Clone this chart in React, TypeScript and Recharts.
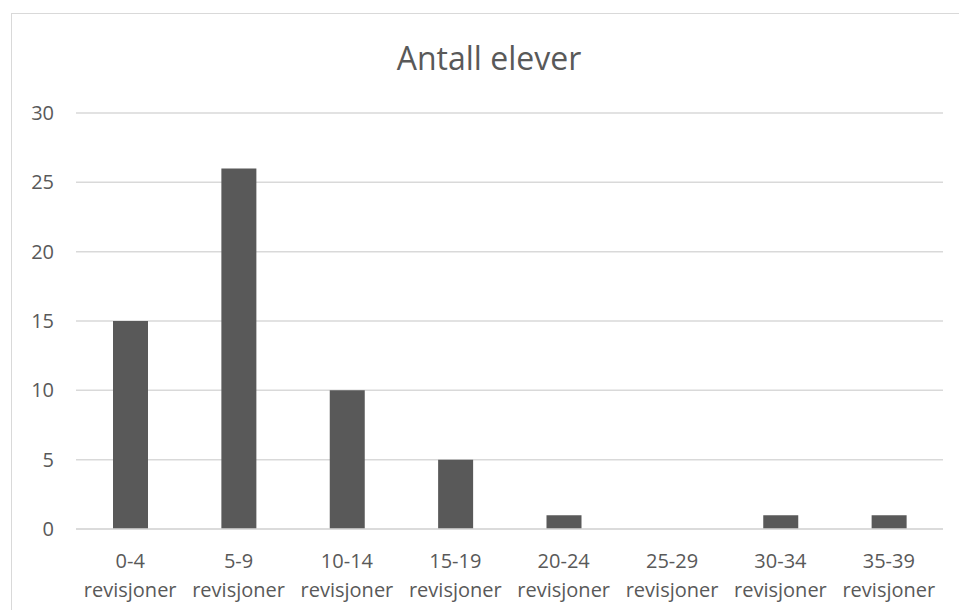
import { BarChart, Bar, XAxis, YAxis, CartesianGrid } from 'recharts';

// Antall elever per revisjonsintervall
const RANGES = ['0-4', '5-9', '10-14', '15-19', '20-24', '25-29', '30-34', '35-39'];
const SUFFIX = 'revisjoner';
const ELEVER = [15, 26, 10, 5, 1, 0, 1, 1];
const Y_TICKS = [0, 5, 10, 15, 20, 25, 30];

const TEXT = '#595959';
const GRID = '#d9d9d9';
const FONT = '"Open Sans", "Noto Sans", sans-serif';

const data = RANGES.map((r, i) => ({ name: r, value: ELEVER[i] }));

function CategoryTick(props: any) {
    const { x, y, payload } = props;
    return (
        <g>
            <text x={x} y={y + 31} textAnchor="middle" fill={TEXT} fontSize={20} fontFamily={FONT}>
                {payload.value}
            </text>
            <text x={x} y={y + 60} textAnchor="middle" fill={TEXT} fontSize={20} fontFamily={FONT}>
                {SUFFIX}
            </text>
        </g>
    );
}

export default function App() {
    return (
        <div style={{ position: 'fixed', left: 0, top: 0, width: 959, height: 610, background: '#fff' }}>
            <div
                style={{
                    position: 'absolute',
                    left: 11,
                    top: 13,
                    width: 948,
                    height: 597,
                    borderLeft: `1.5px solid ${GRID}`,
                    borderTop: `1.5px solid ${GRID}`,
                }}
            />
            <svg width={959} height={100} style={{ position: 'absolute', left: 0, top: 0 }}>
                <text x={489} y={70} textAnchor="middle" fill={TEXT} fontSize={32} fontFamily={FONT}>
                    Antall elever
                </text>
            </svg>
            <div style={{ position: 'absolute', left: 0, top: 0 }}>
                <BarChart
                    width={959}
                    height={610}
                    data={data}
                    margin={{ top: 113, right: 16, bottom: 21, left: 16 }}
                >
                    <CartesianGrid vertical={false} stroke={GRID} strokeWidth={1.5} />
                    <XAxis
                        dataKey="name"
                        height={60}
                        axisLine={{ stroke: GRID, strokeWidth: 1.5 }}
                        tickLine={false}
                        tick={<CategoryTick />}
                        interval={0}
                    />
                    <YAxis
                        width={60}
                        domain={[0, 30]}
                        ticks={Y_TICKS}
                        axisLine={false}
                        tickLine={false}
                        tickMargin={16}
                        tick={{ fill: TEXT, fontSize: 20, fontFamily: FONT }}
                    />
                    <Bar dataKey="value" fill="#595959" barSize={35} isAnimationActive={false} />
                </BarChart>
            </div>
        </div>
    );
}
